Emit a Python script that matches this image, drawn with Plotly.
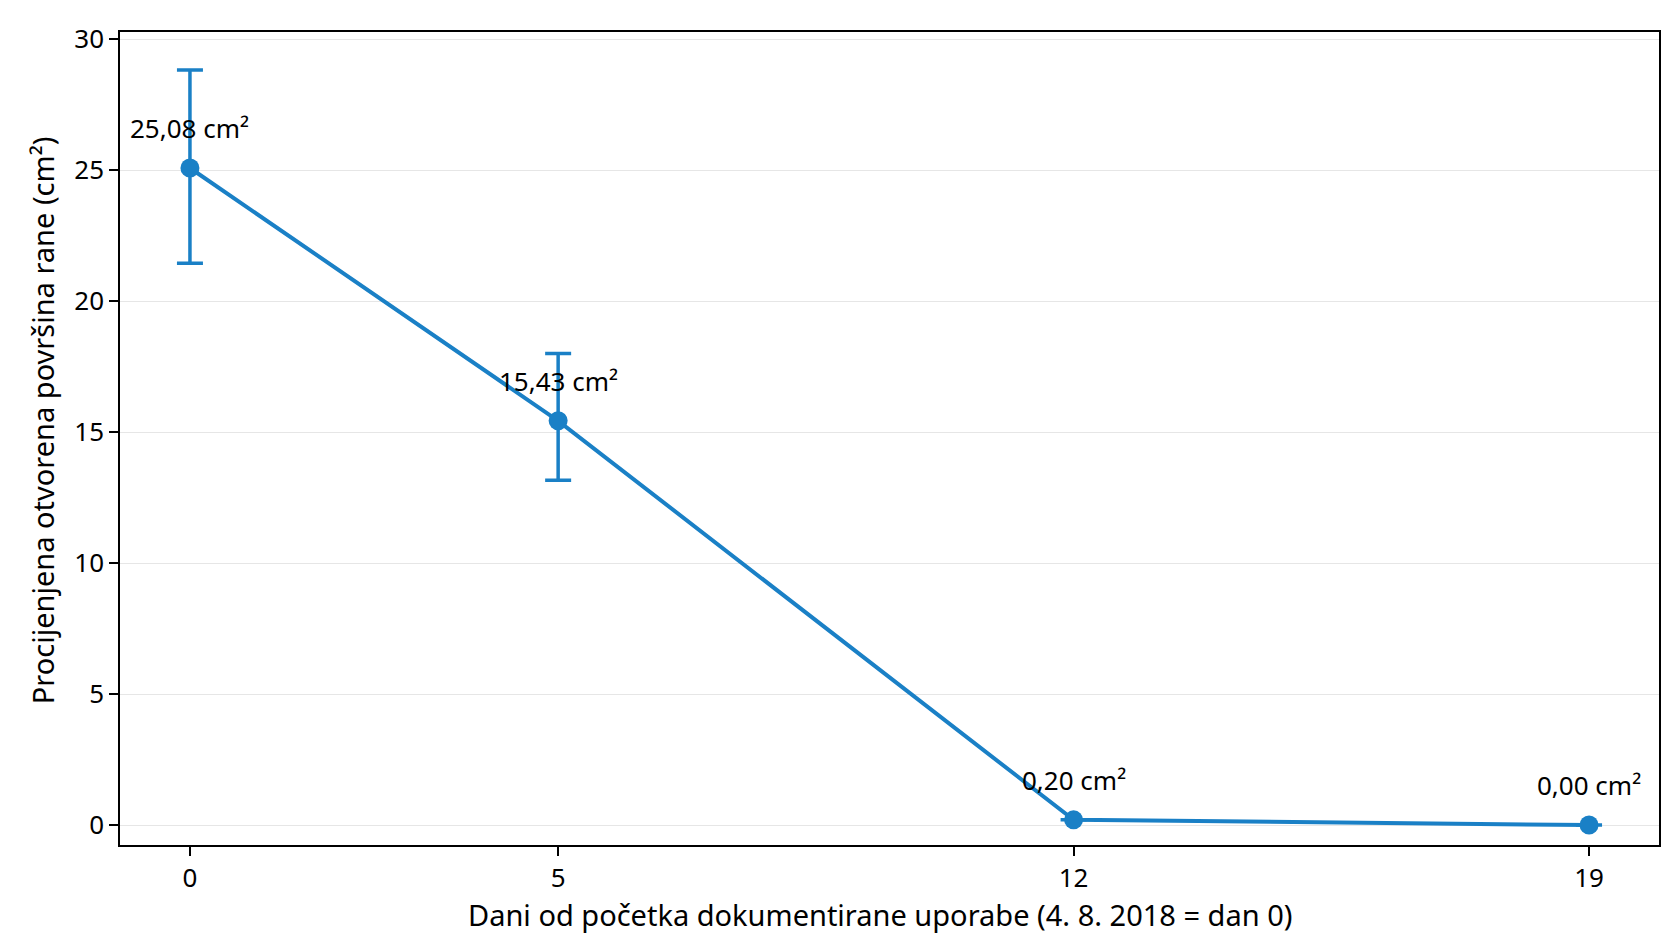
import plotly.graph_objects as go

# days since start of documented use
days = [0, 5, 12, 19]
area = [25.08, 15.43, 0.20, 0.00]
err_up = [3.74, 2.57, 0.0, 0.0]
err_down = [3.64, 2.27, 0.0, 0.0]
labels = ["25,08 cm²", "15,43 cm²", "0,20 cm²", "0,00 cm²"]

x_ticks = [0, 5, 12, 19]
y_ticks = [0, 5, 10, 15, 20, 25, 30]

x_title = "Dani od početka dokumentirane uporabe (4. 8. 2018 = dan 0)"
y_title = "Procijenjena otvorena površina rane (cm²)"

BLUE = "#1a80c6"
FONT = "Noto Sans"

fig = go.Figure()
fig.add_trace(
    go.Scatter(
        x=days,
        y=area,
        mode="lines+markers",
        line=dict(color=BLUE, width=4),
        marker=dict(color=BLUE, size=19),
        error_y=dict(
            type="data",
            symmetric=False,
            array=err_up,
            arrayminus=err_down,
            color=BLUE,
            thickness=3.5,
            width=13,
        ),
        showlegend=False,
    )
)

# value labels above each point
for d, a, t in zip(days, area, labels):
    fig.add_annotation(
        x=d, y=a, text=t, showarrow=False,
        yshift=40, font=dict(family=FONT, size=26, color="black"),
    )

# axis titles as annotations so they sit where the original has them
fig.add_annotation(
    xref="paper", yref="paper", x=0.494, y=-0.086,
    xanchor="center", yanchor="middle", showarrow=False,
    text=x_title, font=dict(family=FONT, size=29, color="black"),
)
fig.add_annotation(
    xref="paper", yref="paper", x=-0.0507, y=0.5225,
    xanchor="center", yanchor="middle", showarrow=False, textangle=-90,
    text=y_title, font=dict(family=FONT, size=29, color="black"),
)

fig.update_layout(
    width=1672,
    height=941,
    margin=dict(l=112, r=21, t=21, b=104),
    plot_bgcolor="white",
    paper_bgcolor="white",
    font=dict(family=FONT, size=26, color="black"),
)
fig.update_xaxes(
    range=[-0.95, 19.95],
    tickvals=x_ticks,
    ticks="outside", ticklen=9, tickwidth=1.5, tickcolor="black",
    showline=True, linecolor="black", linewidth=1.5, mirror=True,
    showgrid=False, zeroline=False,
)
fig.update_yaxes(
    range=[-0.76, 30.27],
    tickvals=y_ticks,
    ticks="outside", ticklen=9, tickwidth=1.5, tickcolor="black",
    showline=True, linecolor="black", linewidth=1.5, mirror=True,
    showgrid=True, gridcolor="#e6e6e6", gridwidth=1, zeroline=False,
)

fig.write_html("out.html")
